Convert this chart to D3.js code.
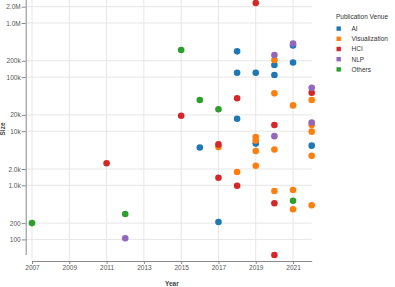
<!DOCTYPE html>
<html>
	<head>
		<script src="https://cdn.jsdelivr.net/npm/d3@7"></script>
		<style type="text/css">
			body {
				margin: 0;
				font-family: "Liberation Sans", Arial, sans-serif;
			}
			.axis text {
				font-size: 6.5px;
				fill: #555;
			}
			.axis path, .axis line {
				stroke: #888;
			}
		</style>
	</head>
	<body>
		<script type="text/javascript">
			var w = 395;
			var h = 287;

			// values: [year, size]
			var venues = ["AI", "Visualization", "HCI", "NLP", "Others"];
			var colors = ["#1f77b4", "#ff7f0e", "#d62728", "#9467bd", "#2ca02c"];

			var aiPoints = [
				[2016, 5000], [2017, 210], [2018, 299000], [2018, 120000], [2018, 17000],
				[2019, 120000], [2019, 5900], [2020, 167000], [2020, 109000],
				[2021, 384000], [2021, 186000], [2022, 5400]
			];
			var visPoints = [
				[2017, 5100], [2018, 1760], [2019, 7800], [2019, 6700], [2019, 4300], [2019, 2300],
				[2020, 207000], [2020, 50000], [2020, 4600], [2020, 785],
				[2021, 30000], [2021, 819], [2021, 360],
				[2022, 37700], [2022, 13000], [2022, 9800], [2022, 3500], [2022, 427]
			];
			var hciPoints = [
				[2011, 2550], [2015, 19300], [2017, 5700], [2017, 1380], [2018, 40500], [2018, 984],
				[2019, 2340000], [2020, 13000], [2020, 465], [2020, 51.5], [2022, 51400]
			];
			var nlpPoints = [
				[2012, 105], [2020, 256000], [2020, 8100], [2021, 418000], [2022, 63700], [2022, 14400]
			];
			var otherPoints = [
				[2007, 200], [2012, 295], [2015, 316000], [2016, 37700], [2017, 25400], [2021, 519]
			];

			var xTicks = [2007, 2009, 2011, 2013, 2015, 2017, 2019, 2021];
			var yTicks = [100, 200, 1000, 2000, 10000, 20000, 100000, 200000, 1000000, 2000000];

			var groups = [aiPoints, visPoints, hciPoints, nlpPoints, otherPoints];
			var data = [];
			groups.forEach(function (g, i) {
				g.forEach(function (p) {
					data.push({year: p[0], size: p[1], venue: venues[i]});
				});
			});

			var x = d3.scaleLinear().domain([2007, 2022]).range([32, 311.7]);
			var y = d3.scaleLog().domain(d3.extent(data, function (d) { return d.size; })).range([255, 3]);
			var color = d3.scaleOrdinal().domain(venues).range(colors);

			var svg = d3.select("body")
				.append("svg")
					.attr("width", w)
					.attr("height", h);

			// grid
			svg.append("g").selectAll("line.hgrid")
				.data(yTicks)
				.enter().append("line")
					.attr("x1", 26).attr("x2", 311.7)
					.attr("y1", function (d) { return y(d); })
					.attr("y2", function (d) { return y(d); })
					.attr("stroke", "#e6e6e6")
					.attr("stroke-width", 1);

			svg.append("g").selectAll("line.vgrid")
				.data(xTicks)
				.enter().append("line")
					.attr("x1", function (d) { return x(d); })
					.attr("x2", function (d) { return x(d); })
					.attr("y1", 0).attr("y2", 261)
					.attr("stroke", "#e6e6e6")
					.attr("stroke-width", 1);

			// axes
			var yAxis = svg.append("g")
				.attr("class", "axis")
				.attr("transform", "translate(25.7,0)")
				.call(d3.axisLeft(y).tickValues(yTicks).tickFormat(d3.format(".2s")).tickSize(4).tickSizeOuter(0).tickPadding(1));
			yAxis.select(".domain").attr("d", "M0.5,0V255");

			svg.append("g")
				.attr("class", "axis")
				.attr("transform", "translate(0,261)")
				.call(d3.axisBottom(x).tickValues(xTicks).tickFormat(d3.format("d")).tickSize(3).tickSizeOuter(0).tickPadding(1.5));

			svg.append("text")
				.attr("x", (32 + 311.7) / 2)
				.attr("y", 286)
				.attr("text-anchor", "middle")
				.attr("font-size", "6.5px")
				.attr("font-weight", "bold")
				.attr("fill", "#444")
				.text("Year");

			svg.append("text")
				.attr("transform", "translate(5,129) rotate(-90)")
				.attr("text-anchor", "middle")
				.attr("font-size", "6.5px")
				.attr("font-weight", "bold")
				.attr("fill", "#444")
				.text("Size");

			// points
			svg.append("g").selectAll("circle")
				.data(data)
				.enter().append("circle")
					.attr("cx", function (d) { return x(d.year); })
					.attr("cy", function (d) { return y(d.size); })
					.attr("r", 3.3)
					.attr("fill", function (d) { return color(d.venue); });

			// legend
			var legend = svg.append("g")
				.attr("transform", "translate(336,0)");

			legend.append("text")
				.attr("x", 0)
				.attr("y", 19)
				.attr("font-size", "6.5px")
				.attr("fill", "#333")
				.text("Publication Venue");

			var items = legend.selectAll("g.item")
				.data(venues)
				.enter().append("g")
					.attr("class", "item")
					.attr("transform", function (d, i) { return "translate(0," + (28.6 + i * 10.2) + ")"; });

			items.append("rect")
				.attr("x", 0.5)
				.attr("y", -2.2)
				.attr("width", 4.4)
				.attr("height", 4.4)
				.attr("fill", function (d) { return color(d); });

			items.append("text")
				.attr("x", 15.5)
				.attr("y", 2.3)
				.attr("font-size", "6.5px")
				.attr("fill", "#333")
				.text(function (d) { return d; });
		</script>
	</body>
</html>
